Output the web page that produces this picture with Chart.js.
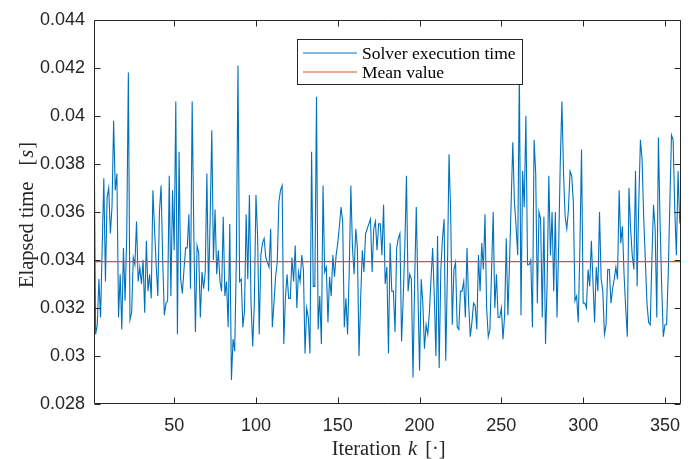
<!DOCTYPE html>
<html>
<head>
<meta charset="utf-8">
<title>Solver execution time</title>
<script src="https://cdn.jsdelivr.net/npm/chart.js@4.4.1/dist/chart.umd.min.js"></script>
<style>
    html, body { margin: 0; padding: 0; background: #ffffff; }
    #chartBox { width: 691px; height: 459px; }
</style>
</head>
<body>
<div id="chartBox"><canvas id="timeChart"></canvas></div>
<script>
// Elapsed solver time per iteration [s]
const elapsedTime = [
    0.0400, 0.0309, 0.0313, 0.0332, 0.0316, 0.0345, 0.0374, 0.0331, 0.0366, 0.0370,
    0.0351, 0.0362, 0.0398, 0.0369, 0.0376, 0.0316, 0.0334, 0.0311, 0.0345, 0.0323,
    0.0350, 0.0418, 0.0315, 0.0318, 0.0341, 0.0338, 0.0356, 0.0331, 0.0337, 0.0330,
    0.0340, 0.0318, 0.0348, 0.0327, 0.0334, 0.0324, 0.0369, 0.0353, 0.0338, 0.0325,
    0.0360, 0.0371, 0.0340, 0.0317, 0.0322, 0.0323, 0.0375, 0.0325, 0.0369, 0.0344,
    0.0406, 0.0309, 0.0385, 0.0332, 0.0326, 0.0336, 0.0345,
    0.0345, 0.0359, 0.0328, 0.0406, 0.0352, 0.0310, 0.0346, 0.0343, 0.0316, 0.0335,
    0.0328, 0.0335, 0.0376, 0.0327, 0.0357, 0.0394, 0.0340, 0.0361, 0.0334, 0.0344,
    0.0331, 0.0327, 0.0358, 0.0325, 0.0331, 0.0312, 0.0355, 0.0290, 0.0307, 0.0302,
    0.0340, 0.0421, 0.0331, 0.0332, 0.0312, 0.0319, 0.0359, 0.0332, 0.0367, 0.0322,
    0.0304, 0.0322, 0.0367, 0.0350, 0.0309, 0.0342, 0.0347, 0.0349, 0.0341, 0.0339,
    0.0337, 0.0353, 0.0312, 0.0322, 0.0333, 0.0339, 0.0364, 0.0369, 0.0371, 0.0305,
    0.0324, 0.0334, 0.0324,
    0.0324, 0.0341, 0.0331, 0.0346, 0.0320, 0.0335, 0.0331, 0.0342, 0.0336, 0.0301,
    0.0320, 0.0316, 0.0301, 0.0385, 0.0329, 0.0329, 0.0408, 0.0311, 0.0325, 0.0305,
    0.0371, 0.0335, 0.0337, 0.0314, 0.0333, 0.0325, 0.0342, 0.0333, 0.0342, 0.0347,
    0.0354, 0.0362, 0.0356, 0.0312, 0.0324, 0.0309, 0.0335, 0.0371, 0.0345, 0.0334,
    0.0353, 0.0345, 0.0300, 0.0324, 0.0344, 0.0335, 0.0351, 0.0353, 0.0355, 0.0357,
    0.0335, 0.0353, 0.0356, 0.0344, 0.0355, 0.0355, 0.0342, 0.0363, 0.0330, 0.0337,
    0.0301, 0.0347, 0.0327, 0.0327, 0.0310, 0.0345, 0.0349, 0.0351, 0.0306, 0.0324,
    0.0346, 0.0375, 0.0327, 0.0334, 0.0332, 0.0291, 0.0331, 0.0362, 0.0327, 0.0294,
    0.0332, 0.0322, 0.0303, 0.0313, 0.0309, 0.0318, 0.0332, 0.0345, 0.0325, 0.0300,
    0.0350, 0.0295, 0.0336, 0.0349, 0.0357, 0.0298, 0.0334, 0.0384, 0.0360, 0.0313,
    0.0336, 0.0339, 0.0312, 0.0311, 0.0327, 0.0327, 0.0331, 0.0316, 0.0345, 0.0322,
    0.0308, 0.0314, 0.0322, 0.0321, 0.0311, 0.0342, 0.0327, 0.0347, 0.0336, 0.0359,
    0.0320, 0.0308, 0.0311, 0.0335, 0.0360, 0.0320, 0.0334, 0.0316, 0.0316, 0.0320,
    0.0307, 0.0317, 0.0349, 0.0317, 0.0339, 0.0364, 0.0389, 0.0364, 0.0354, 0.0342,
    0.0419, 0.0317, 0.0377, 0.0362, 0.0400, 0.0338, 0.0338, 0.0340, 0.0312, 0.0390,
    0.0376, 0.0322, 0.0360, 0.0357, 0.0316, 0.0358, 0.0305, 0.0331, 0.0375, 0.0342,
    0.0360, 0.0327, 0.0360, 0.0316, 0.0345, 0.0380, 0.0406, 0.0376, 0.0358, 0.0353,
    0.0361, 0.0377, 0.0375, 0.0364, 0.0323, 0.0325, 0.0314, 0.0345, 0.0386, 0.0322,
    0.0322, 0.0320, 0.0336, 0.0329, 0.0348, 0.0331, 0.0314, 0.0337, 0.0327, 0.0360,
    0.0332, 0.0327, 0.0309, 0.0313, 0.0336, 0.0336, 0.0322, 0.0328, 0.0332, 0.0337,
    0.0332, 0.0369, 0.0347, 0.0354, 0.0334, 0.0320, 0.0308, 0.0370, 0.0353, 0.0342,
    0.0336, 0.0377, 0.0329, 0.0364, 0.0390, 0.0382, 0.0358, 0.0340, 0.0322, 0.0314,
    0.0313, 0.0340, 0.0363, 0.0353, 0.0316, 0.0391, 0.0356, 0.0329, 0.0308, 0.0313,
    0.0313, 0.0334, 0.0364, 0.0392, 0.0390, 0.0361, 0.0342, 0.0377, 0.0356, 0.0358
];
const iterations = elapsedTime.map((_, i) => i + 1);
const meanValue = 0.03393;

const xTickValues = [50, 100, 150, 200, 250, 300, 350];
const yTickValues = [0.028, 0.030, 0.032, 0.034, 0.036, 0.038, 0.040, 0.042, 0.044];

const seriesLabels = ['Solver execution time', 'Mean value'];
const seriesColors = ['#0072bd', '#d95319'];

const AXIS_COLOR = '#262626';
const TICK_FONT = { family: '"Liberation Sans", Arial, sans-serif', size: 18 };
const SERIF = '"Liberation Serif", "Times New Roman", serif';

// draw text pieces one after another, some of them italic (math symbols)
function drawPieces(ctx, pieces, x, y, size) {
    let total = 0;
    pieces.forEach(p => {
        ctx.font = (p.italic ? 'italic ' : '') + size + 'px ' + SERIF;
        p.w = ctx.measureText(p.text).width;
        total += p.w + (p.gap || 0);
    });
    let cx = x - total / 2;
    pieces.forEach(p => {
        ctx.font = (p.italic ? 'italic ' : '') + size + 'px ' + SERIF;
        ctx.fillText(p.text, cx, y);
        cx += p.w + (p.gap || 0);
    });
}

// MATLAB-like frame: box, inward ticks, axis titles and legend
const matlabFrame = {
    id: 'matlabFrame',
    afterDatasetsDraw(chart) {
        const { ctx, chartArea: a, scales } = chart;
        const left = Math.round(a.left) + 0.5;
        const right = Math.round(a.right) - 0.5;
        const top = Math.round(a.top) + 0.5;
        const bottom = Math.round(a.bottom) - 0.5;
        const tl = 6;

        ctx.save();
        ctx.strokeStyle = AXIS_COLOR;
        ctx.lineWidth = 1;
        ctx.beginPath();
        ctx.rect(left, top, right - left, bottom - top);
        scales.x.ticks.forEach(t => {
            const px = Math.round(scales.x.getPixelForValue(t.value)) + 0.5;
            ctx.moveTo(px, bottom); ctx.lineTo(px, bottom - tl);
            ctx.moveTo(px, top); ctx.lineTo(px, top + tl);
        });
        scales.y.ticks.forEach(t => {
            const py = Math.round(scales.y.getPixelForValue(t.value)) + 0.5;
            ctx.moveTo(left, py); ctx.lineTo(left + tl, py);
            ctx.moveTo(right, py); ctx.lineTo(right - tl, py);
        });
        ctx.stroke();

        // legend box inside the axes
        const lx = 297.5, ly = 39.5, lw = 225, lh = 45;
        ctx.fillStyle = '#ffffff';
        ctx.fillRect(lx, ly, lw, lh);
        ctx.strokeStyle = AXIS_COLOR;
        ctx.strokeRect(lx, ly, lw, lh);
        ctx.font = '17.5px ' + SERIF;
        ctx.textBaseline = 'middle';
        ctx.textAlign = 'left';
        seriesLabels.forEach((label, i) => {
            const rowY = 53 + i * 19;
            ctx.strokeStyle = seriesColors[i];
            ctx.lineWidth = 1;
            ctx.beginPath();
            ctx.moveTo(303, rowY);
            ctx.lineTo(357, rowY);
            ctx.stroke();
            ctx.fillStyle = '#000000';
            ctx.fillText(label, 362, rowY + 1);
        });
        ctx.restore();
    },
    afterDraw(chart) {
        const { ctx, chartArea: a } = chart;
        ctx.save();
        ctx.fillStyle = AXIS_COLOR;
        ctx.textBaseline = 'alphabetic';
        ctx.textAlign = 'left';
        drawPieces(ctx, [
            { text: 'Iteration', gap: 7 },
            { text: 'k', italic: true, gap: 8 },
            { text: '[·]' }
        ], (a.left + a.right) / 2 + 1, 455, 20.5);

        ctx.translate(33, 215);
        ctx.rotate(-Math.PI / 2);
        drawPieces(ctx, [
            { text: 'Elapsed time', gap: 16 },
            { text: '[', gap: 1 },
            { text: 's', italic: true, gap: 1 },
            { text: ']' }
        ], 0, 0, 20.5);
        ctx.restore();
    }
};

function initChart() {
    const ctx = document.getElementById('timeChart');
    if (!ctx) return;

    new Chart(ctx, {
        type: 'line',
        data: {
            datasets: [
                {
                    label: seriesLabels[0],
                    data: iterations.map((k, i) => ({ x: k, y: elapsedTime[i] })),
                    borderColor: seriesColors[0],
                    borderWidth: 1.1,
                    pointRadius: 0,
                    tension: 0,
                    order: 2
                },
                {
                    label: seriesLabels[1],
                    data: [
                        { x: iterations[0], y: meanValue },
                        { x: iterations[iterations.length - 1], y: meanValue }
                    ],
                    borderColor: seriesColors[1],
                    borderWidth: 1.2,
                    pointRadius: 0,
                    tension: 0,
                    order: 1
                }
            ]
        },
        options: {
            responsive: true,
            maintainAspectRatio: false,
            animation: false,
            layout: { padding: { top: 18, right: 1, left: 0, bottom: 0 } },
            plugins: {
                legend: { display: false },
                tooltip: { enabled: false }
            },
            scales: {
                x: {
                    type: 'linear',
                    min: iterations[0],
                    max: iterations[iterations.length - 1],
                    afterBuildTicks: scale => {
                        scale.ticks = xTickValues.map(v => ({ value: v }));
                    },
                    afterFit: scale => { scale.height = 55; },
                    grid: { display: false, drawTicks: false },
                    border: { display: false },
                    ticks: {
                        font: TICK_FONT,
                        color: AXIS_COLOR,
                        padding: 11,
                        maxRotation: 0,
                        callback: v => String(v)
                    }
                },
                y: {
                    type: 'linear',
                    min: yTickValues[0],
                    max: yTickValues[yTickValues.length - 1],
                    afterBuildTicks: scale => {
                        scale.ticks = yTickValues.map(v => ({ value: v }));
                    },
                    afterFit: scale => { scale.width = 94; },
                    grid: { display: false, drawTicks: false },
                    border: { display: false },
                    ticks: {
                        font: TICK_FONT,
                        color: AXIS_COLOR,
                        padding: 9,
                        callback: v => String(+v.toFixed(3))
                    }
                }
            }
        },
        plugins: [matlabFrame]
    });
}

document.addEventListener('DOMContentLoaded', initChart);
</script>
</body>
</html>
